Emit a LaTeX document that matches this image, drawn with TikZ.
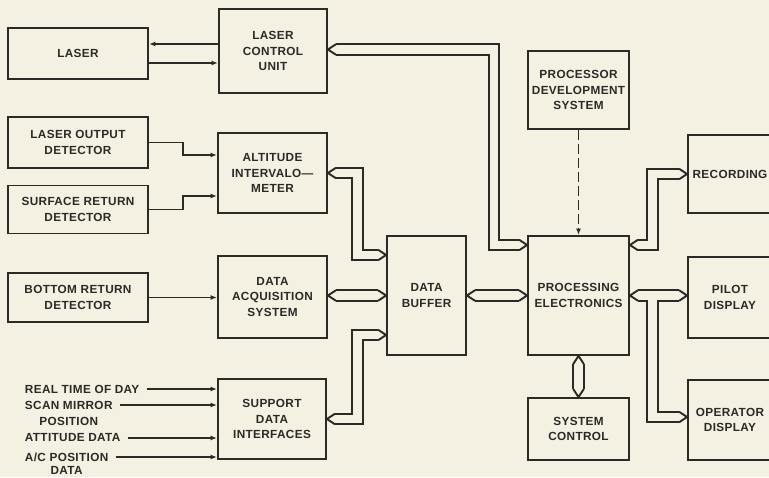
\documentclass[tikz,border=0pt]{standalone}
\usepackage{fontspec}
\newfontfamily\lettering[LetterSpace=3]{Liberation Sans Bold}
\usetikzlibrary{arrows.meta,calc}
\definecolor{ink}{HTML}{2B2A26}
\definecolor{paper}{HTML}{F4F1E3}

\begin{document}
\begin{tikzpicture}[x=0.2mm, y=-0.2mm, line width=1.1pt, color=ink,
  font=\lettering\fontsize{6.7}{9}\selectfont,
  blk/.style={draw=ink, align=center, inner sep=0pt},
  txt/.style={anchor=west, inner sep=0pt},
  sig/.style={draw=ink, -{Latex[length=1.3mm,width=1mm]}},
  bus/.style={draw=ink, double=paper, double distance=1.73mm},
  chev/.pic={\draw[ink] (8,-5.3) -- (0,0) -- (8,5.3);},
]
\useasboundingbox (0,0) rectangle (769,477);
\fill[paper] (0,0) rectangle (769,477);
\clip (0,0) rectangle (769,477);
\foreach \n/\x/\y/\w/\h/\t in {
  laser/78/53.5/140/51/LASER,
  lcu/273/51/108/84/{LASER\\CONTROL\\UNIT},
  lod/78/142.5/140/51/{LASER OUTPUT\\DETECTOR},
  srd/78/209.5/140/48/{SURFACE RETURN\\DETECTOR},
  brd/78/297.5/140/49/{BOTTOM RETURN\\DETECTOR},
  alt/272.5/173/109/80/{ALTITUDE\\INTERVALO—\\METER},
  das/272.5/297/109/82/{DATA\\ACQUISITION\\SYSTEM},
  sdi/272/419/108/80/{SUPPORT\\DATA\\INTERFACES},
  db/426.5/295.5/79/119/{DATA\\BUFFER},
  pe/578.5/295.5/101/119/{PROCESSING\\ELECTRONICS},
  pds/578.5/90/101/78/{PROCESSOR\\DEVELOPMENT\\SYSTEM},
  sc/578.5/429/101/62/{SYSTEM\\CONTROL},
  rec/730/174/84/78/RECORDING,
  pilot/730/297.5/84/81/{PILOT\\DISPLAY},
  opd/730/420/84/80/{OPERATOR\\DISPLAY}}
  \node[blk, minimum width=\w*0.2mm, minimum height=\h*0.2mm] (\n) at (\x,\y) {\t};

\node[txt] (rtd) at (24,389) {REAL TIME OF DAY};
\node[txt, label={[inner sep=0pt, label distance=1.3mm]below:POSITION}] (smp) at (24,405) {SCAN MIRROR};
\node[txt] (att) at (24,438) {ATTITUDE DATA};
\node[txt, label={[inner sep=0pt, label distance=0.6mm]below:DATA}] (acp) at (24,457) {A/C POSITION};
\foreach \n in {rtd,smp,att,acp}
  \draw[sig] ([xshift=1.3mm]\n.east) -- (sdi.west |- \n.east);

\draw[sig] (lcu.west |- 0,44) -- (laser.east |- 0,44);
\draw[sig] (laser.east |- 0,63) -- (lcu.west |- 0,63);
\draw[sig] (lod.east) -- ++(34,0) |- (alt.west |- 0,155);
\draw[sig] (srd.east) -- ++(34,0) |- (alt.west |- 0,196);
\draw[sig] (brd.east) -- (das.west |- brd.east);
\draw[sig, dash pattern=on 2mm off 0.8mm] (pds.south) -- (pe.north);

\coordinate (b1) at (lcu.east |- 0,49.5);
\coordinate (b2) at (pe.west |- 0,245);
\coordinate (b3) at (alt.east);
\coordinate (b4) at (db.west |- 0,255);
\coordinate (b5) at (das.east |- db.west);
\coordinate (b6) at (db.west);
\coordinate (b7) at (sdi.east);
\coordinate (b8) at (db.west |- 0,335);
\coordinate (b9) at (db.east);
\coordinate (b10) at (pe.west);
\coordinate (b11) at (pe.east |- 0,245);
\coordinate (b12) at (rec.west);
\coordinate (b13) at (pe.east);
\coordinate (b14) at (pilot.west |- pe.east);
\coordinate (b15) at (opd.west |- 0,417);
\coordinate (b16) at (pe.south);
\coordinate (b17) at (sc.north);

\draw[bus] ($(b1)+(8,0)$) -| (494,245) -- ($(b2)-(8,0)$);
\draw[bus] ($(b3)+(8,0)$) -| (357.5,255) -- ($(b4)-(8,0)$);
\draw[bus] ($(b5)+(8,0)$) -- ($(b6)-(8,0)$);
\draw[bus] ($(b7)+(8,0)$) -| (357.5,335) -- ($(b8)-(8,0)$);
\draw[bus] ($(b9)+(8,0)$) -- ($(b10)-(8,0)$);
\draw[bus] ($(b11)+(8,0)$) -| (652.5,174) -- ($(b12)-(8,0)$);
\draw[bus] ($(b13)+(8,0)$) -- ($(b14)-(8,0)$) (652.5,295.5) |- ($(b15)-(8,0)$);
\draw[bus] ($(b16)+(0,8)$) -- ($(b17)-(0,8)$);
\foreach \c/\r in {b1/0,b2/180,b3/0,b4/180,b5/0,b6/180,b7/0,b8/180,b9/0,
  b10/180,b11/0,b12/180,b13/0,b14/180,b15/180,b16/-90,b17/90}
  \pic[rotate=\r] at (\c) {chev};
\end{tikzpicture}
\end{document}
